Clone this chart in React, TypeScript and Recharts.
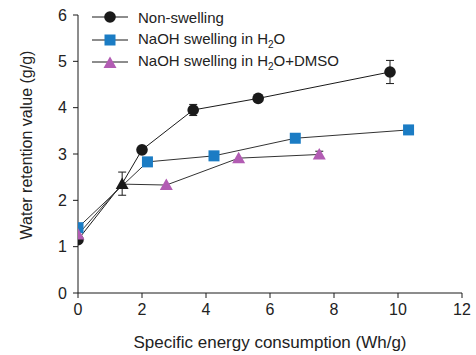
import {
  LineChart,
  Line,
  XAxis,
  YAxis,
  ErrorBar,
  Legend,
} from "recharts";

const nonSwellingX = [0, 1.38, 2.0, 3.6, 5.63, 9.75];
const nonSwellingY = [1.15, 2.36, 3.09, 3.95, 4.2, 4.77];
const nonSwellingErr = [0, 0.25, 0, 0.12, 0, 0.25];

const waterX = [0, 2.17, 4.25, 6.79, 10.33];
const waterY = [1.41, 2.83, 2.96, 3.34, 3.52];

const dmsoX = [0, 1.38, 2.76, 5.02, 7.54];
const dmsoY = [1.26, 2.35, 2.33, 2.91, 2.99];
const dmsoErr = [0, 0, 0, 0, 0.07];

const xTicks = [0, 2, 4, 6, 8, 10, 12];
const yTicks = [0, 1, 2, 3, 4, 5, 6];

const BLACK = "#1a1a1a";
const BLUE = "#1b7cc4";
const PURPLE = "#b25cb3";
const FONT = "'Liberation Sans', Arial, sans-serif";

const nonSwelling = nonSwellingX.map((x, i) => ({
  x,
  y: nonSwellingY[i],
  err: nonSwellingErr[i],
}));
const water = waterX.map((x, i) => ({ x, y: waterY[i] }));
const dmso = dmsoX.map((x, i) => ({ x, y: dmsoY[i], err: dmsoErr[i] }));

const trianglePoints = (cx: number, cy: number) =>
  `${cx},${cy - 6.5} ${cx - 6.5},${cy + 5} ${cx + 6.5},${cy + 5}`;

const circleDot = (props: any) => {
  const { cx, cy, index } = props;
  // the point at 1.4 is drawn as the black triangle on top
  if (index === 1) return <g key={`c${index}`} />;
  return <circle key={`c${index}`} cx={cx} cy={cy} r={5.8} fill={BLACK} />;
};

const squareDot = (props: any) => {
  const { cx, cy, index } = props;
  return (
    <rect key={`s${index}`} x={cx - 5.5} y={cy - 5.5} width={11} height={11} fill={BLUE} />
  );
};

const triangleDot = (props: any) => {
  const { cx, cy, index } = props;
  return (
    <polygon
      key={`t${index}`}
      points={trianglePoints(cx, cy)}
      fill={index === 1 ? BLACK : PURPLE}
    />
  );
};

const legendItems = [
  { name: "Non-swelling", marker: "circle" },
  { name: "water", marker: "square" },
  { name: "dmso", marker: "triangle" },
];

const renderLegend = () => (
  <div style={{ fontFamily: FONT, fontSize: 15, color: "#222" }}>
    {legendItems.map((item) => (
      <div
        key={item.name}
        style={{ display: "flex", alignItems: "center", height: 22.5 }}
      >
        <svg width={44} height={16} style={{ marginRight: 2 }}>
          <line x1={0} y1={8} x2={36} y2={8} stroke={BLACK} strokeWidth={1} />
          {item.marker === "circle" && <circle cx={18} cy={8} r={5.8} fill={BLACK} />}
          {item.marker === "square" && (
            <rect x={12.5} y={2.5} width={11} height={11} fill={BLUE} />
          )}
          {item.marker === "triangle" && (
            <polygon points={trianglePoints(18, 9)} fill={PURPLE} />
          )}
        </svg>
        <span>
          {item.marker === "circle" && "Non-swelling"}
          {item.marker === "square" && (
            <>
              NaOH swelling in H<sub style={{ fontSize: 10 }}>2</sub>O
            </>
          )}
          {item.marker === "triangle" && (
            <>
              NaOH swelling in H<sub style={{ fontSize: 10 }}>2</sub>O+DMSO
            </>
          )}
        </span>
      </div>
    ))}
  </div>
);

const yLabel = () => (
  <text
    x={26}
    y={145}
    transform="rotate(-90 26 145)"
    textAnchor="middle"
    dominantBaseline="central"
    fill="#222"
    fontSize={16}
    fontFamily={FONT}
  >
    Water retention value (g/g)
  </text>
);

export default function App() {
  const tick = { fill: "#222", fontSize: 16, fontFamily: FONT };
  return (
    <div style={{ position: "absolute", left: 0, top: 0, background: "#fff" }}>
      <LineChart
        width={476}
        height={355}
        margin={{ top: 15, right: 14, left: 0, bottom: 0 }}
      >
        <XAxis
          type="number"
          dataKey="x"
          domain={[0, 12]}
          ticks={xTicks}
          allowDataOverflow
          height={62}
          tick={tick}
          tickSize={5}
          tickMargin={6}
          stroke={BLACK}
          label={{
            value: "Specific energy consumption (Wh/g)",
            position: "insideBottom",
            offset: 7,
            fill: "#222",
            fontSize: 17,
            fontFamily: FONT,
          }}
        />
        <YAxis
          type="number"
          domain={[0, 6]}
          ticks={yTicks}
          width={78}
          tick={tick}
          tickSize={5}
          tickMargin={6}
          stroke={BLACK}
          label={{ content: yLabel }}
        />
        <Legend
          layout="vertical"
          align="center"
          verticalAlign="middle"
          content={renderLegend}
          wrapperStyle={{ top: 6, left: 92, width: 300 }}
        />
        <Line
          data={nonSwelling}
          dataKey="y"
          name="Non-swelling"
          stroke={BLACK}
          strokeWidth={1}
          dot={circleDot}
          activeDot={false}
          isAnimationActive={false}
        >
          <ErrorBar dataKey="err" width={4} stroke={BLACK} strokeWidth={1} direction="y" />
        </Line>
        <Line
          data={water}
          dataKey="y"
          name="water"
          stroke="#333"
          strokeWidth={1}
          dot={squareDot}
          activeDot={false}
          isAnimationActive={false}
        />
        <Line
          data={dmso}
          dataKey="y"
          name="dmso"
          stroke="#333"
          strokeWidth={1}
          dot={triangleDot}
          activeDot={false}
          isAnimationActive={false}
        >
          <ErrorBar dataKey="err" width={4} stroke={BLACK} strokeWidth={1} direction="y" />
        </Line>
      </LineChart>
    </div>
  );
}
